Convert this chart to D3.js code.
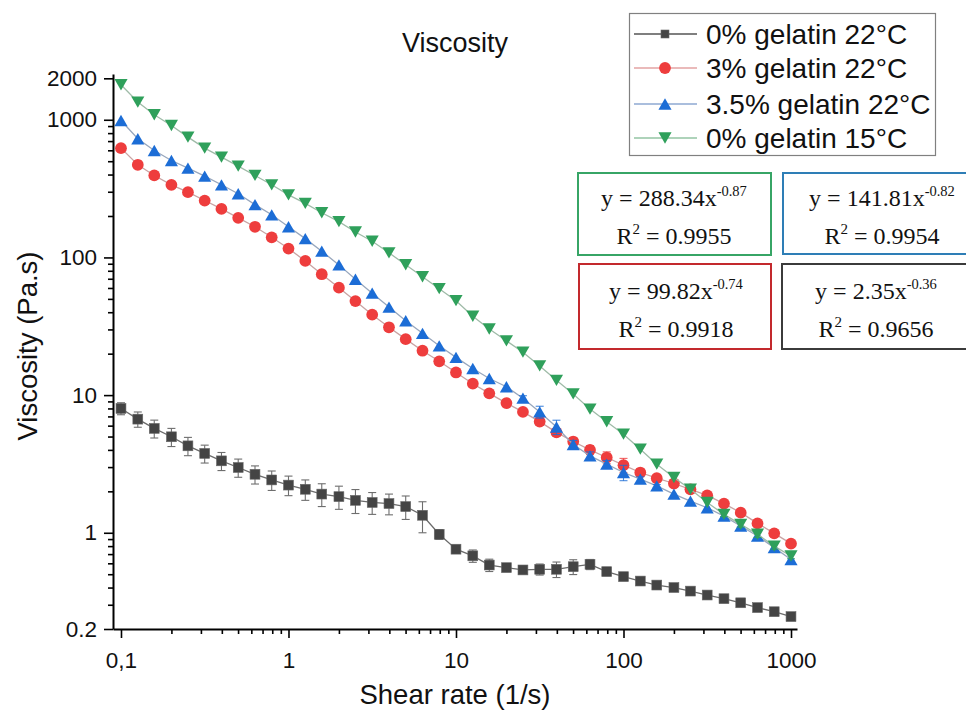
<!DOCTYPE html>
<html><head><meta charset="utf-8">
<script src="https://cdn.jsdelivr.net/npm/d3@7"></script>
<style>html,body{margin:0;padding:0;background:#fff;} svg{display:block;}</style>
</head><body><svg id="c" width="966" height="710"></svg>
<script>
// ---- data ----
const shearRate = [0.1,0.126,0.158,0.2,0.251,0.316,0.398,0.501,0.631,0.794,
  1,1.26,1.58,2,2.51,3.16,3.98,5.01,6.31,7.94,
  10,12.6,15.8,20,25.1,31.6,39.8,50.1,63.1,79.4,
  100,126,158,200,251,316,398,501,631,794,1000];

const visc0_22 = [8.0,6.69,5.73,4.98,4.28,3.77,3.33,2.98,2.66,2.42,
  2.22,2.07,1.91,1.83,1.72,1.66,1.63,1.55,1.34,0.975,
  0.76,0.68,0.583,0.558,0.537,0.543,0.543,0.567,0.59,0.522,
  0.48,0.446,0.417,0.40,0.377,0.353,0.332,0.31,0.286,0.267,0.246];
const err0_22 = [0.8,0.85,0.85,0.75,0.65,0.56,0.5,0.45,0.4,0.39,
  0.36,0.35,0.36,0.35,0.34,0.3,0.28,0.3,0.34,0.08,
  0.04,0.07,0.06,0.02,0.02,0.05,0.07,0.07,0.05,0.02,
  0.02,0.02,0.02,0.01,0.01,0.01,0.01,0.01,0.01,0.01,0.01];

const visc3_22 = [622,471,394,337,298,259,225,194,167,140,
  116,94.3,75.5,60.3,48.2,38.4,31.1,25.5,21,17.6,
  14.6,12.1,10.3,8.75,7.55,6.42,5.36,4.6,4.0,3.52,
  3.1,2.74,2.49,2.28,2.07,1.87,1.63,1.40,1.17,0.99,0.834];
const err3_22 = [0,0,0,0,0,0,0,0,0,0,
  0,0,0,0,0,0,0,0,0,0,
  0,0,0,0,0.3,0.4,0.3,0.25,0.3,0.35,
  0.37,0.15,0.1,0.05,0,0,0,0,0,0,0];

const visc35_22 = [988,728,598,506,445,390,337,290,242,204,
  167,137,111,88.3,69.4,55,43.6,34.7,28.1,22.8,
  18.8,15.6,13.2,11.5,9.5,7.55,5.87,4.38,3.62,3.15,
  2.74,2.45,2.19,1.91,1.70,1.52,1.32,1.12,0.948,0.78,0.64];
const err35_22 = [0,0,0,0,0,0,0,0,0,0,
  0,0,0,0,0,0,0,0,0,0,
  0,0,0,0,0.4,0.75,0.7,0.3,0.25,0.2,
  0.35,0.1,0.05,0,0,0,0,0,0,0,0];

const visc0_15 = [1797,1345,1087,909,748,622,535,461,394,337,
  285,247,211,182,153,131,108,88.5,72.4,59.3,
  48.5,37.4,30.2,24.8,20.5,16.3,12.8,10.2,7.91,6.4,
  5.2,4.05,3.15,2.52,2.07,1.66,1.36,1.15,0.975,0.80,0.678];
const err0_15 = [0,0,0,0,0,0,0,0,0,0,
  0,0,0,0,0,0,0,0,0,0,
  0,0,0,0,0,0,0,0,0,0,
  0,0,0,0,0,0,0.05,0.05,0.05,0.04,0.03];

const seriesNames = ["0% gelatin 22°C","3% gelatin 22°C","3.5% gelatin 22°C","0% gelatin 15°C"];

const xTickValues = [0.1,1,10,100,1000];
const xTickLabels = ["0,1","1","10","100","1000"];
const yTickValues = [0.2,1,10,100,1000,2000];
const yTickLabels = ["0.2","1","10","100","1000","2000"];

const fitCoef = ["288.34","141.81","99.82","2.35"];
const fitExp  = ["-0.87","-0.82","-0.74","-0.36"];
const fitR2   = ["0.9955","0.9954","0.9918","0.9656"];

// ---- styles ----
const markerColor = ["#444444","#ee3d3d","#1c6dd6","#2fa05b"];
const lineColor   = ["#6b6b6b","#c9a3a3","#98a7bd","#9fbba8"];
const legLineColor= ["#555555","#e3a3a3","#8ea9d2","#93c4a3"];
const symbolType  = ["square","circle","up","down"];
const boxColor    = ["#37a566","#2e7eb6","#c3292d","#3b3b3b"];

const svg = d3.select("#c");
const SANS = "'Liberation Sans', Arial, sans-serif";
const SERIF = "'Liberation Serif', 'Times New Roman', serif";

const x = d3.scaleLog().domain([0.0896, 1086]).range([113, 797]);
const y = d3.scaleLog().domain([0.2, 2150]).range([629, 74]);

// minor ticks
const xMinor = [];
[0.1,1,10,100].forEach(d => { for (let k=2;k<=9;k++) xMinor.push(d*k); });
const yMinor = [];
for (let k=3;k<=9;k++) yMinor.push(0.1*k);
[1,10,100].forEach(d => { for (let k=2;k<=9;k++) yMinor.push(d*k); });

// axes
const gx = svg.append("g").attr("transform","translate(0,629)");
gx.call(d3.axisBottom(x).tickValues(xMinor).tickSize(5).tickSizeOuter(0).tickFormat(""));
gx.call(g => g.select(".domain").remove());
const gx2 = svg.append("g").attr("transform","translate(0,629)");
gx2.call(d3.axisBottom(x).tickValues(xTickValues).tickSize(9).tickSizeOuter(0).tickPadding(14)
  .tickFormat((d,i)=>xTickLabels[i]));
const gy = svg.append("g").attr("transform","translate(113,0)");
gy.call(d3.axisLeft(y).tickValues(yMinor).tickSize(5).tickSizeOuter(0).tickFormat(""));
gy.call(g => g.select(".domain").remove());
const gy2 = svg.append("g").attr("transform","translate(113,0)");
gy2.call(d3.axisLeft(y).tickValues(yTickValues).tickSize(9).tickSizeOuter(0).tickPadding(7)
  .tickFormat((d,i)=>yTickLabels[i]));

svg.selectAll(".tick line").attr("stroke","#000").attr("stroke-width",1.6);
svg.selectAll(".domain").attr("stroke","#000").attr("stroke-width",2);
svg.selectAll(".tick text").attr("font-family",SANS).attr("font-size",22.5).attr("fill","#111");

// titles
svg.append("text").attr("x",455).attr("y",52).attr("text-anchor","middle")
  .attr("font-family",SANS).attr("font-size",27).attr("fill","#111").text("Viscosity");
svg.append("text").attr("x",455).attr("y",704).attr("text-anchor","middle")
  .attr("font-family",SANS).attr("font-size",27.5).attr("fill","#111").text("Shear rate (1/s)");
svg.append("text").attr("transform","translate(37,346) rotate(-90)").attr("text-anchor","middle")
  .attr("font-family",SANS).attr("font-size",27.5).attr("fill","#111").text("Viscosity (Pa.s)");

// symbols
function drawSymbol(g, type, cx, cy, color, s) {
  if (type === "square") {
    g.append("rect").attr("x",cx-s*0.47).attr("y",cy-s*0.47).attr("width",s*0.94).attr("height",s*0.94)
      .attr("fill",color).attr("stroke","#666").attr("stroke-width",0.6);
  } else if (type === "circle") {
    g.append("circle").attr("cx",cx).attr("cy",cy).attr("r",s*0.56).attr("fill",color);
  } else if (type === "up") {
    const w = s*1.25, h = s*1.08;
    g.append("path").attr("d",`M${cx},${cy-h/2}L${cx+w/2},${cy+h/2}L${cx-w/2},${cy+h/2}Z`).attr("fill",color);
  } else {
    const w = s*1.25, h = s*1.08;
    g.append("path").attr("d",`M${cx-w/2},${cy-h/2}L${cx+w/2},${cy-h/2}L${cx},${cy+h/2}Z`).attr("fill",color);
  }
}

const allVals = [visc0_22, visc3_22, visc35_22, visc0_15];
const allErrs = [err0_22, err3_22, err35_22, err0_15];

allVals.forEach((vals, si) => {
  const g = svg.append("g");
  const pts = shearRate.map((sr,i)=>({x:sr, v:vals[i], e:allErrs[si][i]}));
  g.append("path").datum(pts)
    .attr("d", d3.line().x(d=>x(d.x)).y(d=>y(d.v)))
    .attr("fill","none").attr("stroke",lineColor[si]).attr("stroke-width",1.3);
  // error bars
  pts.filter(d=>d.e>0).forEach(d=>{
    const cx = x(d.x), y1 = y(d.v + d.e), y0 = y(Math.max(d.v - d.e, 0.201));
    const col = si===0 ? "#6e6e6e" : markerColor[si];
    g.append("line").attr("x1",cx).attr("x2",cx).attr("y1",y1).attr("y2",y0)
      .attr("stroke",col).attr("stroke-width",1.1).attr("opacity",si===0?1:0.8);
    g.append("line").attr("x1",cx-4).attr("x2",cx+4).attr("y1",y1).attr("y2",y1)
      .attr("stroke",col).attr("stroke-width",1.1).attr("opacity",si===0?1:0.8);
    g.append("line").attr("x1",cx-4).attr("x2",cx+4).attr("y1",y0).attr("y2",y0)
      .attr("stroke",col).attr("stroke-width",1.1).attr("opacity",si===0?1:0.8);
  });
  pts.forEach(d => drawSymbol(g, symbolType[si], x(d.x), y(d.v), markerColor[si], 10.5));
});

// legend
const lg = svg.append("g");
lg.append("rect").attr("x",629.5).attr("y",13.5).attr("width",306).attr("height",142)
  .attr("fill","#fff").attr("stroke","#808080").attr("stroke-width",1.2);
const rowY = [34, 68, 104, 138];
seriesNames.forEach((name, i) => {
  const yy = rowY[i];
  lg.append("line").attr("x1",634).attr("x2",697).attr("y1",yy).attr("y2",yy)
    .attr("stroke",legLineColor[i]).attr("stroke-width",1.3);
  drawSymbol(lg, symbolType[i], 665, yy, markerColor[i], i===0?8.5:10.5);
  lg.append("text").attr("x",706).attr("y",yy+10).attr("font-family",SANS).attr("font-size",28)
    .attr("fill","#111").text(name);
});

// fit boxes: green, blue, red, black
const boxes = [
  {x:578, y:173, w:193, h:82, cx:674, by1:206, by2:244},
  {x:783, y:173, w:200, h:81, cx:882, by1:206, by2:244},
  {x:579, y:264, w:192, h:85, cx:676, by1:299, by2:337},
  {x:782, y:264, w:200, h:85, cx:876, by1:299, by2:337}
];
boxes.forEach((b, i) => {
  const g = svg.append("g");
  g.append("rect").attr("x",b.x).attr("y",b.y).attr("width",b.w).attr("height",b.h)
    .attr("fill","#fff").attr("stroke",boxColor[i]).attr("stroke-width",2);
  const t1 = g.append("text").attr("x",b.cx).attr("y",b.by1).attr("text-anchor","middle")
    .attr("font-family",SERIF).attr("font-size",24).attr("fill","#111");
  t1.append("tspan").text("y = " + fitCoef[i] + "x");
  t1.append("tspan").attr("dy",-10).attr("font-size",14.5).text(fitExp[i]);
  const t2 = g.append("text").attr("x",b.cx).attr("y",b.by2).attr("text-anchor","middle")
    .attr("font-family",SERIF).attr("font-size",24).attr("fill","#111");
  t2.append("tspan").text("R");
  t2.append("tspan").attr("dy",-10).attr("font-size",15).text("2");
  t2.append("tspan").attr("dy",10).text(" = " + fitR2[i]);
});
</script>
</body></html>
